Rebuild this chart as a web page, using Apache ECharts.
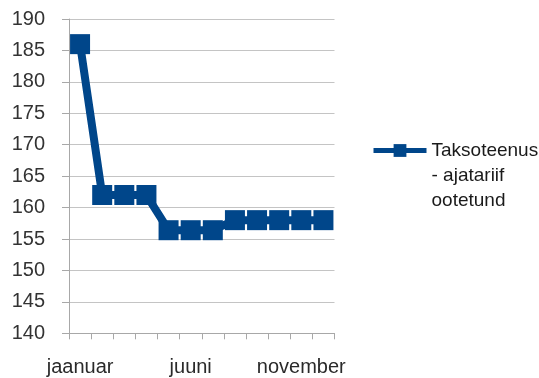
<!DOCTYPE html>
<html>
<head>
<meta charset="utf-8">
<script src="https://cdn.jsdelivr.net/npm/echarts@6/dist/echarts.min.js"></script>
<style>
  html, body { margin: 0; padding: 0; background: #ffffff; }
  #chart { width: 539px; height: 378px; }
</style>
</head>
<body>
<div id="chart"></div>
<script>
// Monthly categories and values for the waiting-time tariff
const months = ['jaanuar', 'veebruar', 'märts', 'aprill', 'mai', 'juuni',
                'juuli', 'august', 'september', 'oktoober', 'november', 'detsember'];
const tariff = [186, 162, 162, 162, 156.4, 156.4, 156.4, 158, 158, 158, 158, 158];
const seriesName = 'Taksoteenus\n- ajatariif\nootetund';
const yMin = 140, yMax = 190, yStep = 5;

const chart = echarts.init(document.getElementById('chart'));
const blue = '#00468A';
const font = '"Liberation Sans", Arial, sans-serif';

chart.setOption({
  animation: false,
  backgroundColor: '#ffffff',
  grid: { left: 69, right: 204.5, top: 19, bottom: 44.7 },
  legend: {
    left: 371, top: 88,
    padding: 0,
    itemWidth: 53, itemHeight: 16, itemGap: 0,
    data: [seriesName],
    // two blank lines on top keep the first text line level with the icon
    formatter: name => '\n\n' + name,
    lineStyle: { width: 5 },
    textStyle: { fontFamily: font, fontSize: 19, color: '#1a1a1a', lineHeight: 25 }
  },
  xAxis: {
    type: 'category',
    data: months,
    boundaryGap: true,
    axisLine: { lineStyle: { color: '#a8a8a8', width: 1 } },
    axisTick: { show: true, length: 6, interval: 0, lineStyle: { color: '#a8a8a8' } },
    axisLabel: { interval: 4, margin: 24, fontFamily: font, fontSize: 20, color: '#2a2a2a' },
    splitLine: { show: false }
  },
  yAxis: {
    type: 'value',
    min: yMin, max: yMax, interval: yStep,
    axisLine: { show: true, lineStyle: { color: '#a8a8a8', width: 1 } },
    axisTick: { show: true, length: 7, lineStyle: { color: '#a8a8a8' } },
    axisLabel: { margin: 24, fontFamily: font, fontSize: 20, color: '#333' },
    splitLine: { show: true, lineStyle: { color: '#c4c4c4', width: 1 } }
  },
  series: [{
    name: seriesName,
    type: 'line',
    data: tariff,
    symbol: 'rect',
    symbolSize: 20,
    showAllSymbol: true,
    lineStyle: { color: blue, width: 8 },
    itemStyle: { color: blue },
    emphasis: { disabled: true }
  }]
});
</script>
</body>
</html>
